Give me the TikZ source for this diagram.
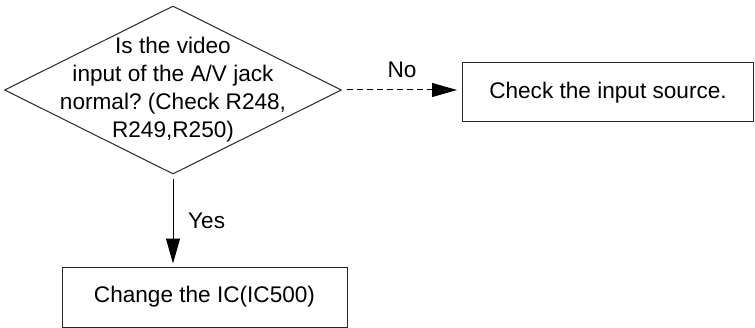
\documentclass[tikz,border=0pt]{standalone}
\usepackage{fontspec}
\setmainfont{Liberation Sans}
\usetikzlibrary{shapes.geometric, arrows.meta, positioning}
\frenchspacing

\begin{document}
\begin{tikzpicture}[
    node distance=1cm,
    font=\fontsize{11.3}{14}\selectfont,
    process/.style={rectangle, minimum width=142.5pt, minimum height=30pt, text centered, draw=black!85, line width=0.5pt},
    decision/.style={diamond, minimum width=168.5pt, minimum height=84pt, inner sep=0pt, draw=black!85, line width=0.5pt},
    arrow/.style={line width=0.5pt, -{Triangle[length=12.5pt,width=7pt]}}
]
    \useasboundingbox (0,0) rectangle (377.5pt,163.5pt);

    \node[decision] (check) at (86.5pt,118.5pt) {};
    \node[align=center] (question) at (check) {Is the video\\input of the A/V jack\\normal? (Check R248,\\R249,R250)};
    \node[process, minimum width=145.5pt, minimum height=29.5pt, right=60pt of check, yshift=-1.25pt] (source) {Check the input source.};
    \node[process, below=46pt of check.south, xshift=15.75pt] (change) {Change the IC(IC500)};

    \draw[arrow, dash pattern=on 3pt off 2pt, shorten <=2.5pt, shorten >=2.5pt] (check.east) -- node[above=2.5pt] {No} (check.east -| source.west);
    \draw[arrow, shorten <=2.5pt, shorten >=1.5pt] (check.south) -- node[right=4pt] {Yes} (check.south |- change.north);

\end{tikzpicture}
\end{document}
